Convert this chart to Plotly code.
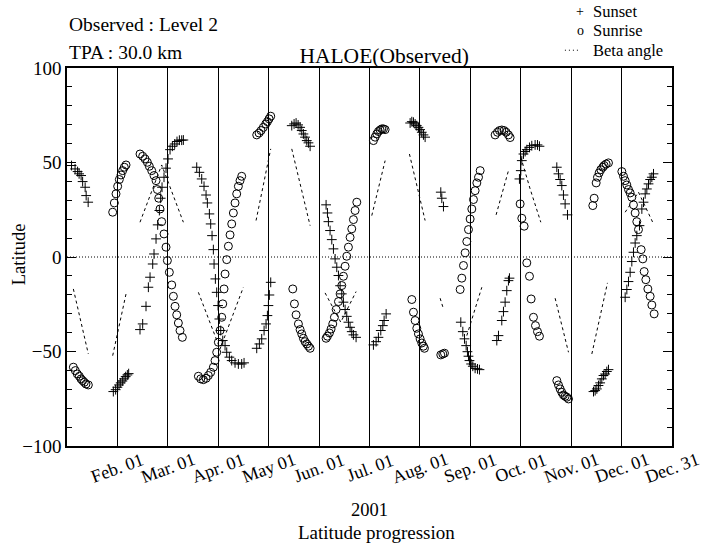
import plotly.graph_objects as go

# Month positions: 0 = Jan 01, 1 = Feb 01, ..., 12 = Dec 31 (each month one unit wide)
tick_vals = [1, 2, 3, 4, 5, 6, 7, 8, 9, 10, 11, 12]
tick_labels = ["Feb. 01", "Mar. 01", "Apr. 01", "May 01", "Jun. 01", "Jul. 01",
               "Aug. 01", "Sep. 01", "Oct. 01", "Nov. 01", "Dec. 01", "Dec. 31"]
lat_ticks = [-100, -50, 0, 50, 100]

# Sunset occultations (month position, latitude in degrees)
sunset_month = [
    0.09, 0.16, 0.21, 0.24, 0.28, 0.31, 0.36, 0.38, 0.42,
    0.919, 0.965, 0.999, 1.032, 1.065, 1.098, 1.131, 1.164, 1.197, 1.223,
    1.448, 1.501, 1.567, 1.614, 1.647, 1.700, 1.726, 1.766, 1.799, 1.832, 1.858,
    1.885, 1.924, 1.964, 2.004, 2.044, 2.090, 2.136, 2.182, 2.229, 2.275, 2.308,
    2.573, 2.626, 2.672, 2.718, 2.758, 2.784, 2.824, 2.850, 2.877, 2.903, 2.917,
    2.943, 2.969, 2.996, 3.022, 3.049, 3.089, 3.135, 3.168, 3.221, 3.267, 3.333,
    3.399, 3.465, 3.512,
    3.763, 3.816, 3.862, 3.909, 3.948, 3.975, 3.995, 4.014, 4.041,
    4.458, 4.504, 4.544, 4.584, 4.623, 4.656, 4.689, 4.722, 4.756, 4.789, 4.822,
    5.139, 5.166, 5.185, 5.218, 5.252, 5.285, 5.318, 5.351, 5.384, 5.417, 5.450,
    5.483, 5.516, 5.549, 5.582, 5.615, 5.648, 5.681, 5.734,
    6.078, 6.131, 6.177, 6.224, 6.264, 6.290, 6.330,
    6.806, 6.839, 6.872, 6.905, 6.938, 6.971, 7.004, 7.037, 7.070, 7.103,
    7.414, 7.434, 7.467,
    7.811, 7.851, 7.884, 7.917, 7.943, 7.963, 7.983, 8.016, 8.049, 8.095, 8.142, 8.181,
    8.525, 8.558, 8.624, 8.657, 8.690, 8.723, 8.756, 8.776,
    8.974, 9.001, 9.021, 9.054, 9.087, 9.120, 9.173, 9.219, 9.285, 9.332, 9.371,
    9.715, 9.748, 9.781, 9.814, 9.847, 9.880, 9.927,
    10.443, 10.476, 10.509, 10.542, 10.575, 10.608, 10.641, 10.674, 10.707, 10.740,
    11.071, 11.104, 11.137, 11.170, 11.203, 11.236, 11.269, 11.302, 11.355, 11.402,
    11.435, 11.468, 11.501, 11.534, 11.567, 11.600, 11.633,
]
sunset_lat = [
    48.4, 46.6, 45.2, 44.0, 43.1, 39.9, 36.9, 32.5, 29.0,
    -71.2, -70.2, -68.9, -67.7, -66.6, -65.6, -64.5, -63.3, -62.4, -61.7,
    -38.4, -35.4, -26.1, -16.0, -10.7, -3.7, 1.6, 9.6, 17.0, 24.6, 31.1,
    36.9, 42.2, 47.0, 51.9, 56.8, 58.6, 59.8, 61.1, 61.8, 61.8, 61.9,
    47.5, 44.8, 41.3, 37.4, 32.8, 28.6, 22.8, 17.5, 11.3, 3.9, -3.7,
    -11.6, -18.7, -25.7, -32.8, -38.9, -44.2, -46.9, -50.4, -53.0, -54.8, -56.0,
    -56.6, -56.6, -56.0,
    -48.3, -46.0, -43.3, -38.9, -35.4, -31.0, -25.7, -20.1, -13.4,
    69.5, 70.4, 70.9, 69.9, 68.6, 66.9, 65.1, 63.4, 61.6, 60.4, 58.6,
    27.6, 23.3, 18.7, 14.0, 9.2, 4.3, -1.0, -5.4, -9.8, -15.2, -19.5,
    -23.9, -27.8, -31.4, -34.5, -37.2, -39.5, -41.2, -42.5,
    -46.5, -44.8, -42.5, -38.9, -36.3, -33.6, -30.1,
    70.9, 71.6, 71.3, 70.4, 69.5, 68.6, 67.4, 66.0, 64.6, 63.4,
    34.3, 31.1, 26.7,
    -34.5, -39.5, -43.3, -46.9, -50.1, -52.5, -54.8, -56.6, -57.8, -58.9, -59.2, -59.6,
    -44.2, -41.6, -33.6, -28.9, -23.9, -17.8, -12.5, -11.2,
    41.3, 45.7, 51.0, 54.5, 55.8, 56.8, 58.0, 58.9, 59.3, 59.3, 58.6,
    47.5, 44.0, 41.0, 37.8, 32.8, 28.1, 22.3,
    -71.2, -70.7, -69.8, -68.0, -66.6, -64.5, -62.7, -61.9, -60.6, -59.6,
    -21.3, -17.2, -13.0, -8.1, -2.4, 2.5, 7.4, 11.3, 16.6, 25.4,
    29.0, 33.4, 36.0, 38.7, 41.0, 42.2, 44.0,
]

# Sunrise occultations (month position, latitude in degrees)
sunrise_month = [
    0.126, 0.165, 0.205, 0.245, 0.278, 0.311, 0.344, 0.377, 0.423,
    0.906, 0.939, 0.972, 1.005, 1.038, 1.071, 1.104, 1.137, 1.171,
    1.448, 1.501, 1.548, 1.594, 1.633, 1.680, 1.726, 1.766, 1.792, 1.819, 1.845,
    1.878, 1.924, 1.964, 1.991, 2.030, 2.077, 2.110, 2.143, 2.176, 2.209, 2.242, 2.288,
    2.606, 2.652, 2.705, 2.758, 2.804, 2.850, 2.903, 2.936, 2.969, 3.002, 3.036,
    3.069, 3.089, 3.115, 3.135, 3.168, 3.201, 3.234, 3.267, 3.300, 3.333, 3.366,
    3.399, 3.432, 3.465,
    3.763, 3.809, 3.849, 3.895, 3.942, 3.975, 4.008, 4.041,
    4.478, 4.511, 4.544, 4.590, 4.623, 4.656, 4.689, 4.722, 4.756, 4.789, 4.822,
    5.139, 5.166, 5.205, 5.238, 5.271, 5.304, 5.338, 5.384, 5.417, 5.450, 5.483,
    5.516, 5.549, 5.582, 5.615, 5.648, 5.681, 5.714, 5.748,
    6.078, 6.111, 6.144, 6.177, 6.211, 6.244, 6.277, 6.310,
    6.839, 6.872, 6.905, 6.938, 6.971, 7.004, 7.037, 7.070, 7.090,
    7.414, 7.454, 7.487,
    7.798, 7.831, 7.864, 7.897, 7.930, 7.963, 7.996, 8.029, 8.062, 8.095, 8.129,
    8.162, 8.195,
    8.492, 8.538, 8.578, 8.624, 8.670, 8.710, 8.756, 8.789,
    8.988, 9.021, 9.067, 9.120, 9.173, 9.206, 9.252, 9.292, 9.332, 9.371,
    9.715, 9.748, 9.781, 9.814, 9.847, 9.880, 9.914, 9.947,
    10.429, 10.456, 10.496, 10.522, 10.555, 10.588, 10.628, 10.654, 10.694, 10.740,
    11.005, 11.038, 11.071, 11.104, 11.137, 11.170, 11.203, 11.236, 11.269, 11.302,
    11.335, 11.388, 11.421, 11.448, 11.481, 11.521, 11.567, 11.600, 11.646,
]
sunrise_lat = [
    -58.3, -60.1, -61.9, -63.1, -64.5, -65.4, -66.3, -67.2, -67.7,
    23.7, 28.6, 33.4, 37.4, 41.0, 43.4, 45.7, 47.5, 48.7,
    54.5, 53.3, 51.9, 50.1, 48.0, 45.7, 43.1, 40.4, 35.7, 31.1, 25.4,
    18.7, 12.2, 5.2, -1.9, -8.1, -14.8, -20.8, -26.1, -30.6, -34.9, -38.9, -42.5,
    -63.1, -64.5, -64.9, -64.2, -62.7, -61.0, -58.3, -54.8, -50.4, -45.1, -38.9,
    -31.9, -24.8, -16.9, -9.0, -1.4, 5.7, 11.7, 17.5, 23.3, 28.6, 33.4,
    37.4, 40.4, 42.7,
    64.6, 65.6, 66.9, 68.6, 70.4, 71.6, 73.1, 74.5,
    -16.9, -24.8, -30.6, -35.4, -38.4, -40.7, -43.0, -44.8, -46.0, -47.2, -48.3,
    -43.0, -41.9, -40.2, -38.1, -35.4, -31.9, -27.8, -23.6, -19.5, -15.1, -10.2,
    -4.9, 0.4, 5.2, 10.4, 14.9, 19.8, 24.6, 29.0,
    61.6, 63.4, 65.1, 66.4, 67.2, 67.8, 67.8, 67.4,
    -22.5, -29.2, -33.6, -37.7, -40.7, -43.3, -45.5, -47.2, -48.3,
    -51.8, -51.3, -50.9,
    -17.2, -11.2, -4.5, 2.2, 8.2, 14.5, 20.1, 25.4, 30.4, 35.1, 39.2,
    42.2, 45.7,
    64.6, 66.0, 66.9, 67.2, 66.9, 66.0, 64.6, 63.2,
    28.1, 20.5, 16.3, -3.1, -10.2, -22.2, -31.9, -36.3, -39.5, -41.9,
    -65.4, -67.7, -69.8, -71.6, -73.0, -73.7, -74.2, -75.1,
    27.2, 31.1, 39.2, 42.2, 44.5, 46.2, 47.5, 48.4, 49.2, 49.8,
    45.2, 42.7, 40.4, 38.1, 35.7, 33.9, 31.6, 27.6, 23.3, 18.7,
    14.5, 3.9, -1.0, -7.7, -12.0, -16.9, -20.8, -25.4, -30.1,
]

# Beta angle, one run per observation period (None breaks the line)
beta_month = [
    0.126, 0.271, 0.423, None,
    0.906, 1.171, None,
    1.448, 1.878, 2.308, None,
    2.606, 3.036, 3.498, None,
    3.750, 4.041, None,
    4.458, 4.822, None,
    5.119, 5.430, 5.734, None,
    6.045, 6.310, None,
    6.792, 7.103, None,
    7.401, 7.467, None,
    7.930, 8.228, None,
    8.511, 8.756, None,
    9.001, 9.186, 9.398, None,
    9.682, 9.947, None,
    10.410, 10.720, None,
    11.071, 11.335, 11.633,
]
beta_lat = [
    -16.9, -33.6, -51.3, None,
    -52.2, -19.5, None,
    18.4, 48.7, 18.4, None,
    -18.7, -48.6, -16.0, None,
    19.3, 57.2, None,
    57.2, 16.6, None,
    -19.0, -34.5, -18.3, None,
    21.9, 51.0, None,
    54.5, 19.3, None,
    -21.8, -27.5, None,
    -41.6, -16.0, None,
    22.3, 45.7, None,
    52.8, 36.0, 18.4, None,
    -21.8, -50.4, None,
    -51.3, -13.7, None,
    23.7, 34.3, 17.5,
]

SERIF = "Liberation Serif, Times New Roman, serif"
BLACK = "black"

fig = go.Figure()
fig.add_trace(go.Scatter(
    x=sunset_month, y=sunset_lat, mode="markers", name="Sunset",
    marker=dict(symbol="cross-thin-open", size=7, color=BLACK,
                line=dict(color=BLACK, width=1)),
))
fig.add_trace(go.Scatter(
    x=sunrise_month, y=sunrise_lat, mode="markers", name="Sunrise",
    marker=dict(symbol="circle-open", size=8, color=BLACK,
                line=dict(color=BLACK, width=1)),
))
fig.add_trace(go.Scatter(
    x=beta_month, y=beta_lat, mode="lines", name="Beta angle",
    connectgaps=False,
    line=dict(color=BLACK, width=1, dash="3px,3px"),
))

# dotted equator line
fig.add_shape(type="line", xref="paper", x0=0, x1=1, yref="y", y0=0, y1=0,
              line=dict(color=BLACK, width=1, dash="1px,2px"), layer="below")

# short dotted key for the beta angle entry
fig.add_shape(type="line", xref="paper", x0=0.823, x1=0.846, yref="paper",
              y0=1.047, y1=1.047, line=dict(color=BLACK, width=1, dash="1px,3px"))

annotations = [
    dict(text="Observed : Level 2", x=0, y=1.116, xanchor="left", font=dict(size=19.5)),
    dict(text="TPA : 30.0 km", x=0, y=1.042, xanchor="left", font=dict(size=19.5)),
    dict(text="Latitude", x=-0.079, y=0.508, textangle=-90, font=dict(size=18.5)),
    dict(text="2001", x=0.5, y=-0.169, font=dict(size=18.5)),
    dict(text="Latitude progression", x=0.511, y=-0.230, font=dict(size=19)),
    # key entries
    dict(text="+", x=0.848, y=1.150, xanchor="center", font=dict(size=14)),
    dict(text="o", x=0.848, y=1.098, xanchor="center", font=dict(size=14)),
    dict(text="Sunset", x=0.866, y=1.150, xanchor="left", font=dict(size=16.5)),
    dict(text="Sunrise", x=0.866, y=1.098, xanchor="left", font=dict(size=16.5)),
    dict(text="Beta angle", x=0.866, y=1.046, xanchor="left", font=dict(size=16.5)),
]
for a in annotations:
    a.setdefault("xanchor", "center")
    a.update(xref="paper", yref="paper", yanchor="middle", showarrow=False)
    a["font"] = dict(family=SERIF, color=BLACK, **a["font"])

# month labels, centred under each month boundary and tilted
for v, lab in zip(tick_vals, tick_labels):
    annotations.append(dict(text=lab, x=v, xref="x", y=-0.057, yref="paper",
                            xanchor="center", yanchor="middle", textangle=-20,
                            showarrow=False,
                            font=dict(family=SERIF, size=18, color=BLACK)))

fig.update_layout(
    width=705, height=547,
    margin=dict(l=67, r=33, t=68, b=101, autoexpand=False),
    paper_bgcolor="white", plot_bgcolor="white",
    font=dict(family=SERIF, size=18, color=BLACK),
    title=dict(text="HALOE(Observed)", xref="container", x=0.545, xanchor="center",
               yref="container", y=0.899, yanchor="middle", font=dict(size=21.5)),
    showlegend=False,
    xaxis=dict(range=[0, 12], tickmode="array", tickvals=tick_vals,
               showticklabels=False,
               showgrid=True, gridcolor=BLACK, gridwidth=1.1,
               zeroline=False, showline=True, linecolor=BLACK, linewidth=1.5,
               mirror=True, ticks=""),
    yaxis=dict(range=[-100, 100], tickmode="array", tickvals=lat_ticks,
               tickfont=dict(size=19),
               ticks="inside", ticklen=9, tickwidth=1, tickcolor=BLACK,
               minor=dict(dtick=10, ticks="inside", ticklen=5, tickwidth=1,
                          tickcolor=BLACK, showgrid=False),
               showgrid=False, zeroline=False, showline=True, linecolor=BLACK,
               linewidth=1.5, mirror="allticks"),
    annotations=annotations,
)

fig.write_html("out.html")
